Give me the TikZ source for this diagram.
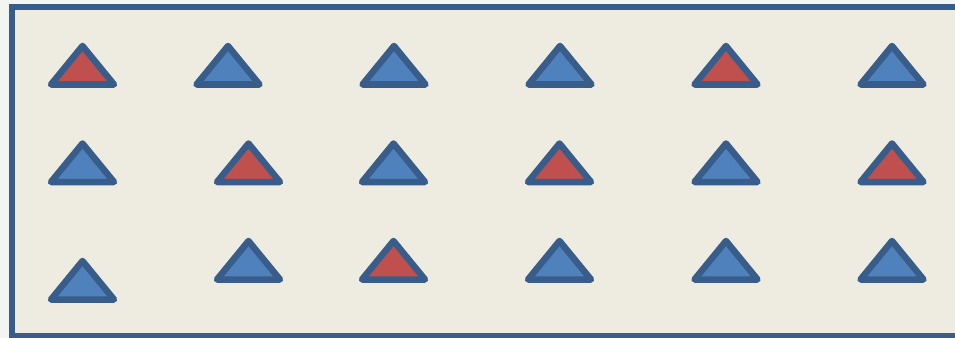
\documentclass[tikz,border=0pt]{standalone}
\usetikzlibrary{positioning}
\definecolor{boxfill}{RGB}{238,236,225}
\definecolor{boxedge}{RGB}{56,93,138}
\definecolor{triblue}{RGB}{79,129,189}
\definecolor{trired}{RGB}{192,80,77}
\definecolor{pagebg}{RGB}{243,246,240}

\begin{document}
\begin{tikzpicture}[x=0.03cm, y=-0.03cm,
    frame/.style={draw=boxedge, fill=boxfill, line width=0.18cm},
    tri/.style={draw=boxedge, line width=0.195cm, line join=round}
]
    \useasboundingbox (0,0) rectangle (955,338);
    \clip (0,0) rectangle (955,338);
    \fill[pagebg] (0,0) rectangle (955,338);

    % Frame (runs off the right edge)
    \draw[frame] (11.5,7.5) rectangle (990,336);

    % Triangles: apex x / apex y / fill
    \foreach \cx/\cy/\col in {
        82.5/46/trired, 228/46/triblue, 394/46/triblue,
        560/46/triblue, 726/46/trired, 892/46/triblue,
        82.5/143.5/triblue, 248.5/143.5/trired, 393.5/143.5/triblue,
        559.5/143.5/trired, 726/143.5/triblue, 892/143.5/trired,
        82.5/261/triblue, 248.5/241/triblue, 393.5/241/trired,
        559.5/241/triblue, 726/241/triblue, 892/241/triblue}
        \draw[tri, fill=\col] (\cx,\cy) -- ++(31.5,38.5) -- ++(-63,0) -- cycle;

\end{tikzpicture}
\end{document}
